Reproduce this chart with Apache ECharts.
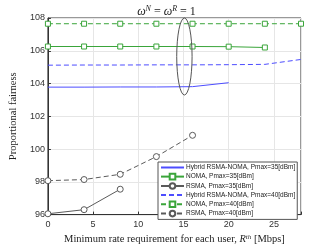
<!DOCTYPE html>
<html><head><meta charset="utf-8">
<script src="https://cdn.jsdelivr.net/npm/echarts@6/dist/echarts.min.js"></script>
<style>html,body{margin:0;padding:0;background:#fff}#c{width:333px;height:250px}</style>
</head><body><div id="c"></div>
<script>
const xRate = [0, 4, 8, 12, 16, 20, 24, 28];
const hybrid35 = [103.78, 103.78, 103.79, 103.79, 103.81, 104.05];
const noma35 = [106.26, 106.26, 106.26, 106.26, 106.26, 106.25, 106.2];
const rsma35 = [96.05, 96.3, 97.55];
const hybrid40 = [105.12, 105.13, 105.13, 105.14, 105.14, 105.15, 105.17, 105.47];
const noma40 = [107.65, 107.65, 107.65, 107.65, 107.65, 107.65, 107.65, 107.65];
const rsma40 = [98.07, 98.14, 98.46, 99.54, 100.84];
const ellipse = {x: 15.1, y: 105.65, rx: 0.85, ry: 2.35};
const xTicks = [0, 5, 10, 15, 20, 25];
const yTicks = [96, 98, 100, 102, 104, 106, 108];
const names = ['Hybrid RSMA-NOMA, Pmax=35[dBm]','NOMA, Pmax=35[dBm]','RSMA, Pmax=35[dBm]',
  'Hybrid RSMA-NOMA, Pmax=40[dBm]','NOMA, Pmax=40[dBm]','RSMA, Pmax=40[dBm]'];

const pair = arr => arr.map((v, i) => [xRate[i], v]);
const BLUE = '#4d4dff', GREEN = '#3aa53a', GRAY = '#5a5a5a';
const serif = '"Liberation Serif", "DejaVu Serif", serif';
const sans = '"Liberation Sans", Arial, sans-serif';
function mk(name, data, color, dashed, symbol) {
  return {
    name, type: 'line', data: pair(data),
    symbol: symbol || 'none', symbolSize: symbol === 'circle' ? 6 : 5,
    showSymbol: !!symbol,
    lineStyle: {color, width: 1, type: dashed ? [5, 3] : 'solid'},
    itemStyle: {color: '#fff', borderColor: color, borderWidth: 1},
    emphasis: {disabled: true}, animation: false, z: 3
  };
}
const legendData = names.map((n, i) => (i === 0 || i === 3)
  ? {name: n, itemStyle: {opacity: 0, borderWidth: 0}}
  : {name: n});
const chart = echarts.init(document.getElementById('c'), null, {renderer: 'canvas'});
chart.setOption({
  animation: false,
  backgroundColor: '#fff',
  title: {
    text: '{i|ω}{s|N}{n| = }{i|ω}{s|R}{n| = 1}', left: 'center', top: 0,
    textStyle: {fontWeight: 'normal', rich: {
      i: {fontFamily: serif, fontStyle: 'italic', fontWeight: 'normal', fontSize: 12, color: '#222'},
      s: {fontFamily: serif, fontStyle: 'italic', fontWeight: 'normal', fontSize: 8, color: '#222', verticalAlign: 'top', padding: [0,0,5,0]},
      n: {fontFamily: serif, fontWeight: 'normal', fontSize: 12, color: '#222'}
    }}
  },
  grid: {left: 43, right: 32, top: 18, bottom: 30, show: true, borderColor: '#333', borderWidth: 1},
  xAxis: {
    type: 'value', min: 0, max: 28, interval: 5,
    name: '{n|Minimum rate requirement for each user, }{i|R}{s|th}{n| [Mbps]}',
    nameLocation: 'middle', nameGap: 14,
    nameTextStyle: {rich: {
      n: {fontFamily: serif, fontSize: 10.5, color: '#222'},
      i: {fontFamily: serif, fontStyle: 'italic', fontSize: 10.5, color: '#222'},
      s: {fontFamily: serif, fontStyle: 'italic', fontSize: 7, color: '#222', verticalAlign: 'top', padding: [0,0,5,0]}
    }},
    axisLine: {show: true, lineStyle: {color: '#333'}},
    axisTick: {show: true, inside: true, length: 3, lineStyle: {color: '#333'}},
    axisLabel: {fontSize: 9, color: '#333', margin: 5, fontFamily: sans,
      formatter: v => xTicks.includes(v) ? String(v) : ''},
    splitLine: {show: true, lineStyle: {color: '#e6e6e6', width: 1}}
  },
  yAxis: {
    type: 'value', min: 96, max: 108, interval: 2,
    name: 'Proportional fairness', nameLocation: 'middle', nameGap: 24,
    nameTextStyle: {fontFamily: serif, fontSize: 10.5, color: '#222'},
    axisLine: {show: true, lineStyle: {color: '#333'}},
    axisTick: {show: true, inside: true, length: 3, lineStyle: {color: '#333'}},
    axisLabel: {fontSize: 9, color: '#333', margin: 3, fontFamily: sans,
      formatter: v => yTicks.includes(v) ? String(v) : ''},
    splitLine: {show: true, lineStyle: {color: '#e6e6e6', width: 1}}
  },
  legend: {
    orient: 'vertical', left: 158, top: 162,
    data: legendData,
    itemWidth: 23, itemHeight: 7, itemGap: 1.8,
    padding: [2, 2, 2, 2],
    backgroundColor: '#fff', borderColor: '#555', borderWidth: 1,
    textStyle: {fontSize: 6.5, lineHeight: 7, color: '#222', fontFamily: sans, padding: [0,0,0,-3]},
    selectedMode: false
  },
  series: [
    mk(names[0], hybrid35, BLUE, false, null),
    mk(names[1], noma35, GREEN, false, 'rect'),
    mk(names[2], rsma35, GRAY, false, 'circle'),
    mk(names[3], hybrid40, BLUE, true, null),
    mk(names[4], noma40, GREEN, true, 'rect'),
    mk(names[5], rsma40, GRAY, true, 'circle'),
    {
      type: 'custom', silent: true, z: 4,
      data: [[ellipse.x, ellipse.y, ellipse.rx, ellipse.ry]],
      renderItem: function (params, api) {
        const c = api.coord([api.value(0), api.value(1)]);
        const s = api.size([api.value(2), api.value(3)]);
        const rx = s[0], ry = s[1];
        return {
          type: 'path',
          shape: {pathData: `M ${c[0]-rx} ${c[1]} A ${rx} ${ry} 0 1 0 ${c[0]+rx} ${c[1]} A ${rx} ${ry} 0 1 0 ${c[0]-rx} ${c[1]} Z`},
          style: {fill: null, stroke: '#555', lineWidth: 1}
        };
      }
    }
  ]
});
</script></body></html>
